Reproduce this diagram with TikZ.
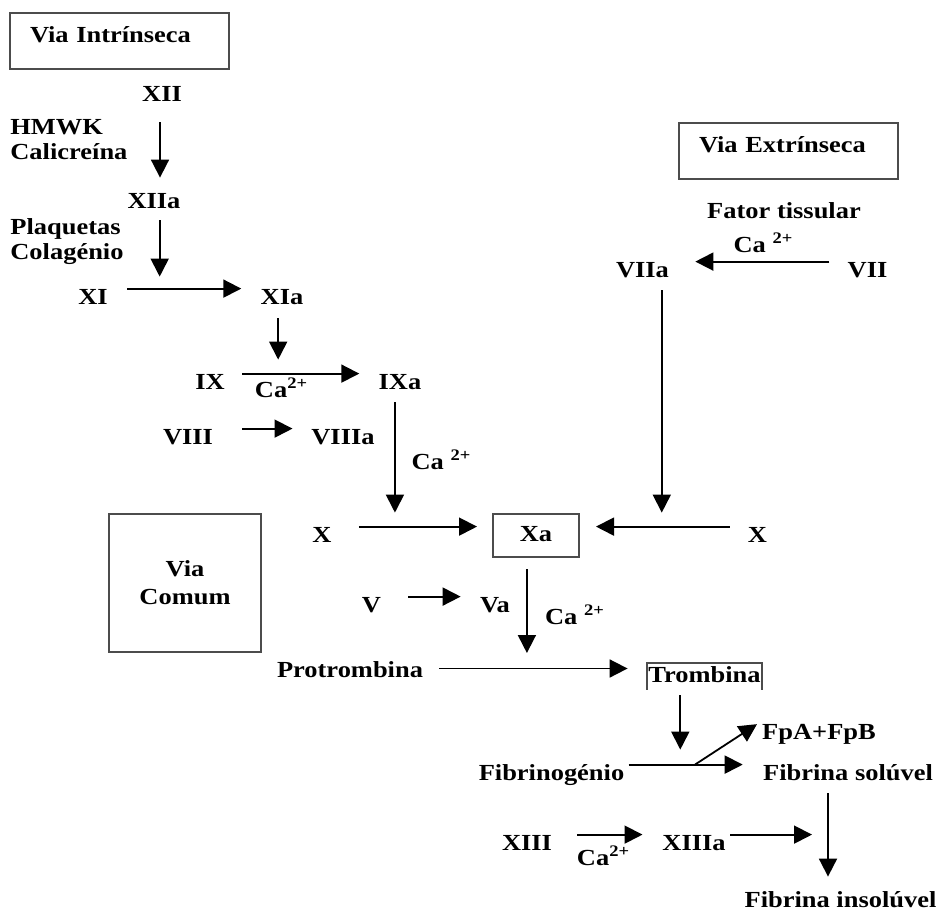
\documentclass[tikz,border=0pt]{standalone}
\usepackage{fontspec}
\setmainfont{Liberation Serif}[FakeStretch=1.15]
\usepackage{tikz}
\usetikzlibrary{arrows.meta}
\tikzstyle{factor} = [font=\fontsize{11.5}{12.5}\selectfont\bfseries, anchor=base, inner xsep=2pt, inner ysep=0pt, text height=7.5pt, text depth=2pt]
\tikzstyle{note} = [font=\fontsize{11.5}{12.5}\selectfont\bfseries, anchor=west, align=left, inner sep=0pt]
\tikzstyle{pathway} = [draw=black!70, line width=1pt, font=\fontsize{11.5}{14}\selectfont\bfseries]
\tikzstyle{arrow} = [line width=0.9pt, -{Triangle[length=9pt,width=9pt]}, shorten >=7.5pt, shorten <=7.5pt]

\begin{document}
\begin{tikzpicture}[x=0.5pt, y=-0.5pt]
\useasboundingbox (0,0) rectangle (941,909);

% vias
\node (intr) [pathway, anchor=north west, inner xsep=10pt, inner ysep=0pt, text width=89.5pt, align=left, text height=15pt, text depth=13pt] at (9,12) {Via Intrínseca};
\node (extr) [pathway, anchor=north west, inner xsep=10pt, inner ysep=0pt, text width=89.5pt, align=left, text height=15pt, text depth=13pt] at (678,122) {Via Extrínseca};
\node (comum) [pathway, align=center, minimum width=76pt, minimum height=69pt] at (185,583) {Via\\Comum};

% intrinseca
\node (XII) [factor] at (162,102) {XII};
\node (hmwk) [note] at (10,140) {HMWK\\Calicreína};
\node (XIIa) [factor] at (154,209) {XIIa};
\node (plaq) [note] at (10,242) {Plaquetas\\Colagénio};
\node (XI) [factor] at (93,304) {XI};
\node (XIa) [factor] at (282,304) {XIa};
\node (IX) [factor] at (210,389) {IX};
\node (IXa) [factor] at (400,389) {IXa};
\node (ca9) [factor] at (281.5,397) {Ca\textsuperscript{2+}};
\node (VIII) [factor] at (188,444) {VIII};
\node (VIIIa) [factor] at (343,444) {VIIIa};
\node (ca10) [factor] at (441.5,469) {Ca \textsuperscript{2+}};

% extrinseca
\node (ft) [factor] at (784,219) {Fator tissular};
\node (ca7) [factor] at (763.5,252) {Ca \textsuperscript{2+}};
\node (VIIa) [factor] at (642.5,277) {VIIa};
\node (VII) [factor] at (867.5,277) {VII};

% comum
\node (X) [factor] at (322,542) {X};
\node (Xa) [factor, anchor=center, draw=black!70, line width=1pt, minimum width=43pt, minimum height=21.5pt] at (536,535.5) {Xa};
\node (Xr) [factor] at (757.5,542) {X};
\node (V) [factor] at (371.5,612) {V};
\node (Va) [factor] at (495,612) {Va};
\node (ca5) [factor] at (575,624) {Ca \textsuperscript{2+}};
\node (prot) [factor] at (350,677) {Protrombina};
\node (trom) [factor, anchor=center, inner xsep=0.5pt, minimum width=57.5pt, minimum height=13pt] at (704.5,676.5) {Trombina};
\node (fp) [factor] at (819,739) {FpA+FpB};
\node (fibg) [factor] at (551.5,780) {Fibrinogénio};
\node (solu) [factor] at (848,780) {Fibrina solúvel};
\node (XIII) [factor] at (527,850) {XIII};
\node (ca13) [factor] at (603.5,865) {Ca\textsuperscript{2+}};
\node (XIIIa) [factor] at (694,850) {XIIIa};
\node (insolu) [factor] at (840.5,907) {Fibrina insolúvel};

\draw [draw=black!70, line width=1pt] (trom.south west) -- (trom.north west) -- (trom.north east) -- (trom.south east);

\draw [arrow, shorten <=8pt, shorten >=8pt] ([xshift=-1pt]XII.south) -- ([xshift=-1pt]XII.south |- XIIa.north);
\draw [arrow] (XI.north east) -- coordinate[pos=0.33] (c11) (XIa.north west);
\draw [arrow, shorten <=3.5pt, shorten >=6pt] (c11 |- XIIa.south) -- (c11);
\draw [arrow, shorten <=6.5pt, shorten >=7.5pt] (IX.north east) -- coordinate[pos=0.338] (c9) (IXa.north west);
\draw [arrow, shorten <=5pt, shorten >=7pt] (c9 |- XIa.south) -- (c9);
\draw [arrow, shorten <=12.5pt, shorten >=7.25pt] (VIII.north east) -- (VIIIa.north west);
\draw [arrow, shorten <=11.5pt] (X.north east) -- coordinate[pos=0.378] (c10) (X.north east -| Xa.west);
\draw [arrow, shorten <=4.5pt, shorten >=7pt] (c10 |- IXa.south) -- (c10);
\draw [arrow, shorten <=7pt, shorten >=8pt] (Xr.north west) -- coordinate[midway] (c10r) (Xr.north west -| Xa.east);
\draw [arrow, shorten <=4.5pt, shorten >=7pt] (c10r |- VIIa.south) -- (c10r);
\draw [arrow, shorten <=7pt, shorten >=11pt] (VII.north west) -- (VIIa.north east);
\draw [arrow, shorten <=11.5pt] (V.north east) -- (Va.north west);
\draw [arrow, shorten <=6pt, shorten >=9.5pt] ([yshift=1.5pt]prot.east) -- coordinate[pos=0.454] (cP) ([yshift=1.5pt]prot.east -| trom.west);
\draw [arrow, shorten <=5.5pt, shorten >=7.75pt] (cP |- Xa.south) -- (cP);
\draw [arrow, shorten <=0pt, shorten >=8pt] (fibg.north east) -- coordinate[pos=0.397] (cF) coordinate[pos=0.51] (cD) (solu.north west);
\draw [arrow, shorten <=2.75pt] (cF |- trom.south) -- (cF);
\draw [arrow, shorten <=0pt, shorten >=0.5pt] (cD) -- (fp.north west);
\draw [arrow, shorten <=4.5pt] ([xshift=-10pt]solu.south) -- coordinate[pos=0.47] (cS) ([xshift=-10pt]solu.south |- insolu.north);
\draw [arrow, shorten <=10.5pt, shorten >=7.75pt] (XIII.north east) -- (XIIIa.north west);
\draw [arrow, shorten <=0pt, shorten >=8pt] (XIIIa.north east) -- (XIIIa.north east -| cS);

\end{tikzpicture}
\end{document}
